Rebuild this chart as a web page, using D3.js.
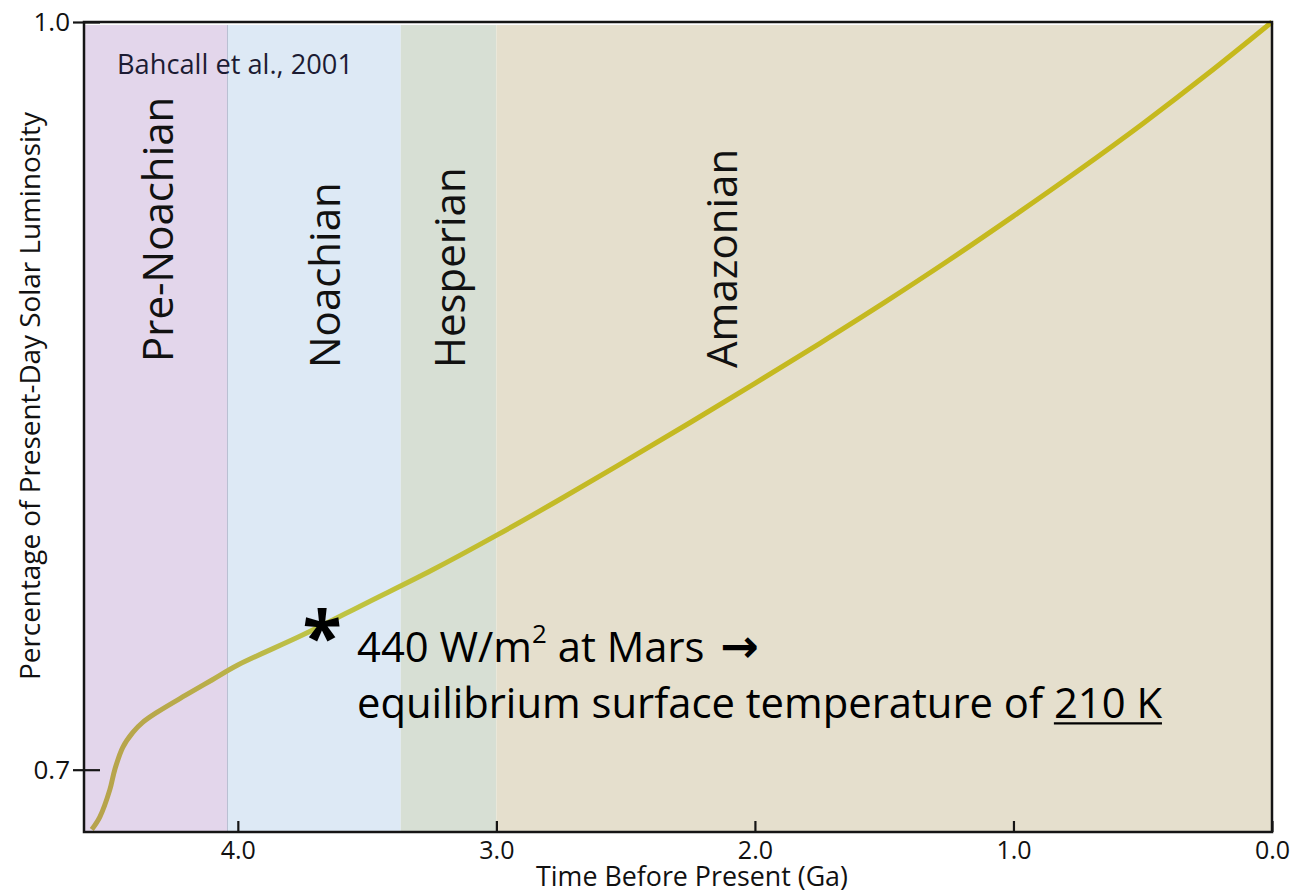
<!DOCTYPE html>
<html>
<head>
<meta charset="utf-8">
<script src="https://cdn.jsdelivr.net/npm/d3@7"></script>
<style>
  html, body { margin: 0; padding: 0; background: #ffffff; }
  svg { display: block; }
  text { font-family: "Open Sans", "DejaVu Sans", sans-serif; }
</style>
</head>
<body>
<svg id="chart" width="1294" height="894"></svg>
<script>
// Martian geologic periods (age in Ga before present)
const periodNames = ["Pre-Noachian", "Noachian", "Hesperian", "Amazonian"];
const periodStart = [4.595, 4.04, 3.37, 3.0];
const periodEnd   = [4.04, 3.37, 3.0, 0.0];
const periodFill  = ["#e3d6eb", "#dde9f5", "#d7dfd4", "#e5dfcd"];

// Solar luminosity relative to today (Bahcall et al., 2001)
const ageGa = [4.565, 4.534, 4.495, 4.476, 4.445, 4.406, 4.368, 4.313, 4.2, 4.1,
               4.0, 3.75, 3.5, 3.25, 3.0, 2.75, 2.5, 2.25, 2.0, 1.75,
               1.5, 1.25, 1.0, 0.75, 0.5, 0.25, 0.0];
const luminosity = [0.676, 0.681, 0.692, 0.700, 0.709, 0.715, 0.719, 0.723, 0.730, 0.736,
                    0.742, 0.754, 0.767, 0.780, 0.794, 0.8087, 0.8239, 0.8393, 0.855, 0.871,
                    0.8874, 0.9044, 0.9221, 0.9403, 0.9592, 0.9791, 1.0];

// Axis ticks
const xTicks = [4.0, 3.0, 2.0, 1.0, 0.0];
const yTicks = [1.0, 0.7];

const svg = d3.select("#chart");
const plotL = 84, plotR = 1272, plotT = 22, plotB = 832;

const x = d3.scaleLinear().domain([4.595, 0]).range([plotL, plotR]);
const y = d3.scaleLinear().domain([0.675, 1.0]).range([plotB, plotT]);

// Fit a text element to a target length by scaling its font size
function fitWidth(sel, target) {
  const node = sel.node();
  const fs = parseFloat(sel.attr("font-size"));
  const len = node.getComputedTextLength();
  sel.attr("font-size", (fs * target / len).toFixed(2));
}

// Period bands
svg.append("g").selectAll("rect")
  .data(periodNames)
  .join("rect")
  .attr("x", (d, i) => x(periodStart[i]))
  .attr("y", y(1.0) + 3)
  .attr("width", (d, i) => x(periodEnd[i]) - x(periodStart[i]))
  .attr("height", (d, i) => y(0.675) - y(1.0) - 3)
  .attr("fill", (d, i) => periodFill[i]);

// thin divider between Pre-Noachian and Noachian
svg.append("line")
  .attr("x1", x(periodEnd[0])).attr("x2", x(periodEnd[0]))
  .attr("y1", y(1.0) + 3).attr("y2", plotB)
  .attr("stroke", "#b9c0d2").attr("stroke-width", 1);

// Period labels, rotated
const labelBase = [362, 368, 368, 368];
const labelX = [173, 340, 465, 737];
svg.append("g").selectAll("text")
  .data(periodNames)
  .join("text")
  .attr("transform", (d, i) => `translate(${labelX[i]},${labelBase[i]}) rotate(-90)`)
  .attr("font-size", 42)
  .attr("fill", "#111")
  .text(d => d);

// Luminosity curve with a colour ramp along its length
const defs = svg.append("defs");
const grad = defs.append("linearGradient")
  .attr("id", "lumGrad")
  .attr("gradientUnits", "userSpaceOnUse")
  .attr("x1", plotL).attr("x2", plotR).attr("y1", 0).attr("y2", 0);
grad.append("stop").attr("offset", "0%").attr("stop-color", "#b6a24c");
grad.append("stop").attr("offset", "10%").attr("stop-color", "#b9ad4a");
grad.append("stop").attr("offset", "20%").attr("stop-color", "#bec546");
grad.append("stop").attr("offset", "30%").attr("stop-color", "#c1be32");
grad.append("stop").attr("offset", "45%").attr("stop-color", "#c4b922");
grad.append("stop").attr("offset", "100%").attr("stop-color", "#c6b91c");

const line = d3.line()
  .x(i => x(ageGa[i]))
  .y(i => y(luminosity[i]))
  .curve(d3.curveCatmullRom.alpha(0.5));

svg.append("path")
  .attr("d", line(d3.range(ageGa.length)))
  .attr("fill", "none")
  .attr("stroke", "url(#lumGrad)")
  .attr("stroke-width", 5)
  .attr("stroke-linecap", "butt");

// Frame
svg.append("rect")
  .attr("x", plotL).attr("y", plotT)
  .attr("width", plotR - plotL).attr("height", plotB - plotT)
  .attr("fill", "none")
  .attr("stroke", "#151515")
  .attr("stroke-width", 2.5);

// X axis: ticks point inward
const xAxis = svg.append("g")
  .attr("transform", `translate(0,${plotB})`)
  .call(d3.axisBottom(x).tickValues(xTicks).tickFormat(d3.format(".1f"))
        .tickSize(-11).tickSizeOuter(0).tickPadding(10));
xAxis.select(".domain").remove();
xAxis.selectAll(".tick line").attr("stroke", "#151515").attr("stroke-width", 2.2);
xAxis.selectAll(".tick text")
  .attr("font-size", 25)
  .attr("font-family", "'Open Sans', sans-serif")
  .attr("fill", "#111")
  .attr("y", 9)
  .attr("dy", "0.71em");

// Y axis: ticks cross the axis line
const yAxis = svg.append("g")
  .attr("transform", `translate(${plotL},0)`)
  .call(d3.axisLeft(y).tickValues(yTicks).tickFormat(d3.format(".1f"))
        .tickSize(11).tickSizeOuter(0).tickPadding(3));
yAxis.select(".domain").remove();
yAxis.selectAll(".tick line").attr("stroke", "#151515").attr("stroke-width", 2.2);
yAxis.selectAll(".tick").append("line")
  .attr("x1", 0).attr("x2", 16)
  .attr("stroke", "#151515").attr("stroke-width", 2.2);
yAxis.selectAll(".tick text")
  .attr("font-size", 26)
  .attr("font-family", "'Open Sans', sans-serif")
  .attr("fill", "#111");

// Axis titles
const xTitle = svg.append("text")
  .attr("x", 692).attr("y", 886)
  .attr("text-anchor", "middle")
  .attr("font-size", 24)
  .attr("fill", "#111")
  .text("Time Before Present (Ga)");
fitWidth(xTitle, 312);

const yTitle = svg.append("text")
  .attr("transform", "translate(40,396) rotate(-90)")
  .attr("text-anchor", "middle")
  .attr("font-size", 22)
  .attr("fill", "#111")
  .text("Percentage of Present-Day Solar Luminosity");
fitWidth(yTitle, 568);

// Source note
const src = svg.append("text")
  .attr("x", 117).attr("y", 74)
  .attr("font-size", 26)
  .attr("fill", "#1c1b33")
  .text("Bahcall et al., 2001");
fitWidth(src, 236);

// Annotation at ~3.7 Ga
svg.append("text")
  .attr("x", 322).attr("y", 663)
  .attr("text-anchor", "middle")
  .attr("font-size", 72)
  .attr("font-weight", 700)
  .attr("fill", "#000")
  .text("*");

const noteFont = "Lato, 'Open Sans', sans-serif";
const note2 = svg.append("text")
  .attr("x", 357).attr("y", 718)
  .attr("font-family", noteFont)
  .attr("font-size", 38)
  .attr("fill", "#000");
note2.append("tspan").text("equilibrium surface temperature of ");
note2.append("tspan").text("210 K");
fitWidth(note2, 805);
const fs2 = parseFloat(note2.attr("font-size"));

const note1 = svg.append("text")
  .attr("x", 357).attr("y", 662)
  .attr("font-family", noteFont)
  .attr("font-size", fs2.toFixed(2))
  .attr("fill", "#000");
note1.append("tspan").text("440 W/m");
note1.append("tspan").attr("font-size", "0.62em").attr("dy", "-0.75em").text("2");
note1.append("tspan").attr("dy", "0.465em").text(" at Mars");

// bold arrow after the first line
const arrowX = 357 + note1.node().getComputedTextLength() + 16;
svg.append("text")
  .attr("x", arrowX).attr("y", 662)
  .attr("font-family", "'DejaVu Sans', sans-serif")
  .attr("font-size", 46)
  .attr("font-weight", 700)
  .attr("fill", "#000")
  .text("→");

// underline the temperature
const tStart = note2.node().getSubStringLength(0, 35);
const tLen = note2.node().getSubStringLength(35, 5);
svg.append("line")
  .attr("x1", 357 + tStart).attr("x2", 357 + tStart + tLen)
  .attr("y1", 718 + fs2 * 0.13).attr("y2", 718 + fs2 * 0.13)
  .attr("stroke", "#000").attr("stroke-width", 2.2);
</script>
</body>
</html>
